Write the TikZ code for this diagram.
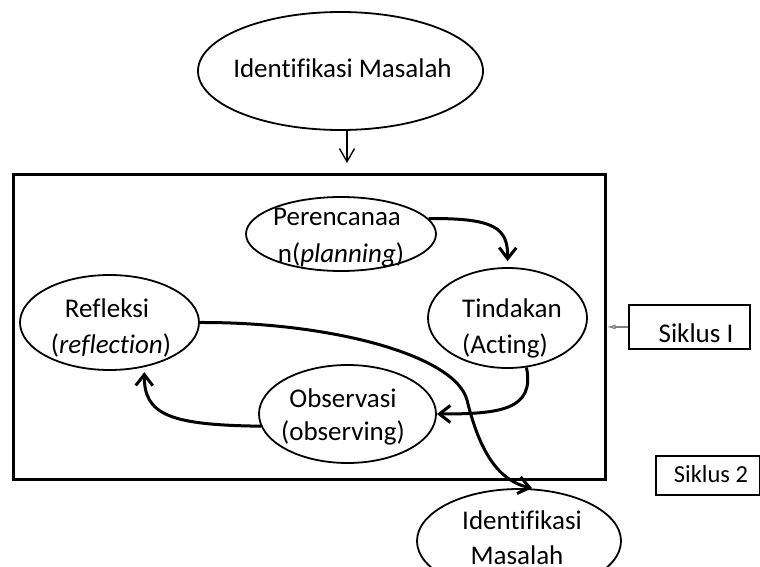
\documentclass[tikz,border=0pt]{standalone}
\usepackage{fontspec}
\setmainfont{Carlito}[Ligatures=CommonOff]
\usetikzlibrary{arrows.meta,calc,shapes.geometric}
\begin{document}
\begin{tikzpicture}[x=1pt,y=-1pt,
  ell/.style={draw,ellipse,line width=1.8pt,inner sep=0pt},
  txt/.style={anchor=base,inner sep=0pt,font=\fontsize{27}{30}\selectfont},
  sbox/.style={draw,rectangle,line width=2.2pt,inner sep=0pt},
  flow/.style={line width=3pt,-{Straight Barb[length=11pt,width=17pt]}},
  thin/.style={line width=1.4pt,-{Straight Barb[length=13pt,width=15pt]}}]
\useasboundingbox (0,0) rectangle (760,567);
% frame
\node[draw,line width=2.6pt,minimum width=592pt,minimum height=305pt,anchor=north west,inner sep=0pt] (frame) at (12,173) {};
% ellipses
\node[ell,minimum width=285pt,minimum height=118pt] (idm) at (340.5,71) {};
\node[ell,minimum width=190pt,minimum height=74pt] (per) at (341,234) {};
\node[ell,minimum width=159pt,minimum height=100pt] (tin) at (507.5,318) {};
\node[ell,minimum width=179pt,minimum height=95pt] (ref) at (109.5,322.5) {};
\node[ell,minimum width=177pt,minimum height=98pt] (obs) at (347.5,414) {};
\node[ell,minimum width=204pt,minimum height=104pt] (bot) at (519,541) {};
% boxes
\node[sbox,minimum width=121pt,minimum height=44pt] (s1) at (689.5,327) {};
\node[sbox,minimum width=104pt,minimum height=39pt] (s2) at (708,475.5) {};
% texts
\node[txt] (idmt) at (342.5,78) {Identifikasi Masalah};
\node[txt] (pert1) at (337,225) {Perencanaa};
\node[txt] (pert2) at (341,262) {n(\textit{planning})};
\node[txt] (tint1) at (512,317) {Tindakan};
\node[txt] (tint2) at (505,353) {(Acting)};
\node[txt] (reft1) at (107,317) {Refleksi};
\node[txt] (reft2) at (111,353) {(\textit{reflection})};
\node[txt] (obst1) at (343,407) {Observasi};
\node[txt] (obst2) at (343,440) {(observing)};
\node[txt] (bott1) at (522,529) {Identifikasi};
\node[txt] (bott2) at (517,564) {Masalah};
\node[txt] (s1t) at (696,342) {Siklus I};
\node[txt,font=\fontsize{24.5}{28}\selectfont] (s2t) at (711,482) {Siklus 2};
% connectors
\draw[thin,shorten >=10pt] ([xshift=6.5pt]idm.south) -- ([xshift=6.5pt]idm.south |- frame.north);
\draw[gray,line width=1.2pt,-{Latex[open,length=9pt,width=5pt]}] (s1.west) -- (s1.west -| frame.east);
\draw[flow,shorten >=6pt] (per.10) .. controls (495,218) and (508,228) .. (tin.north);
\draw[flow] (tin.-69) .. controls (535,410) and (500,414) .. (obs.east);
\draw[flow,shorten >=5pt] (obs.188) .. controls (170,425) and (144,415) .. (ref.-52);
\coordinate (botin) at ([xshift=13pt]bot.north);
\draw[line width=3pt] (ref.east) .. controls (330,322) and (455,355) .. (467,400)
  coordinate (mid);
\draw[flow] (mid) .. controls (478,445) and (495,480) .. (botin);
\end{tikzpicture}
\end{document}
